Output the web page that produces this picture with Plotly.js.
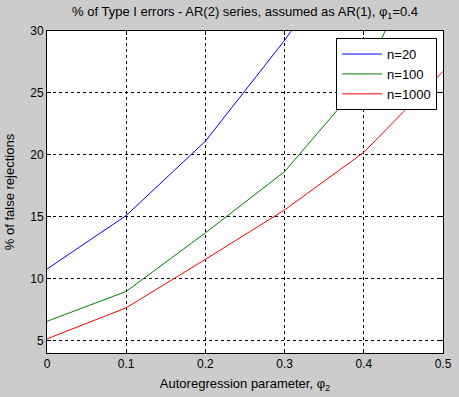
<!DOCTYPE html>
<html>
<head>
<meta charset="utf-8">
<script src="https://cdn.plot.ly/plotly-3.0.1.min.js"></script>
<style>html,body{margin:0;padding:0;background:#cccccc;}#chart{width:459px;height:397px;}</style>
</head>
<body>
<div id="chart"></div>
<script>
const phi2 = [0, 0.1, 0.2, 0.3, 0.4, 0.5];
const n20 = [10.78, 15.1, 21.1, 29.25, 38.3, 50.0];
const n100 = [6.56, 8.97, 13.7, 18.65, 26.1, 40.6];
const n1000 = [5.14, 7.65, 11.56, 15.55, 20.2, 26.74];
const seriesNames = ['n=20', 'n=100', 'n=1000'];
const seriesColors = ['#0000ff', '#008000', '#ff0000'];
const xTicks = [0, 0.1, 0.2, 0.3, 0.4, 0.5];
const yTicks = [5, 10, 15, 20, 25, 30];

const ys = [n20, n100, n1000];
const traces = ys.map((y, i) => ({
  x: phi2, y: y, type: 'scatter', mode: 'lines', name: seriesNames[i],
  line: {color: seriesColors[i], width: 1}
}));

const font = {family: 'Arial, "Liberation Sans", sans-serif', size: 12, color: '#000'};
const layout = {
  width: 459, height: 397,
  paper_bgcolor: '#cccccc', plot_bgcolor: '#ffffff',
  margin: {l: 47, r: 16, t: 31, b: 44},
  font: font,
  title: {text: '% of Type I errors - AR(2) series, assumed as AR(1), φ<sub>1</sub>=0.4',
          font: {family: font.family, size: 13, color: '#000'}, x: 0.534, xanchor: 'center', y: 0.97, yanchor: 'middle'},
  xaxis: {
    range: [0, 0.5], tickvals: xTicks, ticktext: xTicks.map(String),
    showgrid: true, gridcolor: '#000', griddash: '3px,3px', gridwidth: 1,
    zeroline: false, showline: true, linecolor: '#000', linewidth: 1, mirror: 'ticks',
    ticks: 'inside', ticklen: 4, tickcolor: '#000',
    title: {text: 'Autoregression parameter, φ<sub>2</sub>', font: {family: font.family, size: 13, color: '#000'}, standoff: 8},
    tickfont: {family: font.family, size: 12, color: '#000'}
  },
  yaxis: {
    range: [4, 30], tickvals: yTicks, ticktext: yTicks.map(String),
    showgrid: true, gridcolor: '#000', griddash: '3px,3px', gridwidth: 1,
    zeroline: false, showline: true, linecolor: '#000', linewidth: 1, mirror: 'ticks',
    ticks: 'inside', ticklen: 4, tickcolor: '#000',
    title: {text: '% of false rejections', font: {family: font.family, size: 13, color: '#000'}, standoff: 12},
    tickfont: {family: font.family, size: 12, color: '#000'}
  },
  showlegend: true,
  legend: {x: 0.985, xanchor: 'right', y: 0.978, yanchor: 'top',
           bgcolor: '#ffffff', bordercolor: '#000', borderwidth: 1, itemwidth: 40,
           font: {family: font.family, size: 13, color: '#000'}, tracegroupgap: 0}
};
Plotly.newPlot('chart', traces, layout, {displayModeBar: false, staticPlot: true});
</script>
</body>
</html>
